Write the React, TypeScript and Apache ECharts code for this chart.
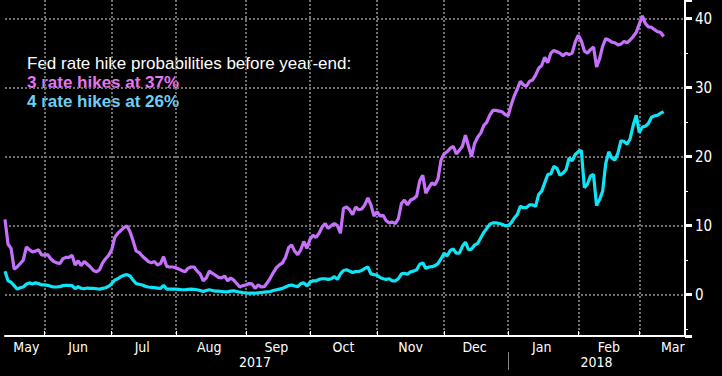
import React, { useEffect, useRef } from 'react';
import * as echarts from 'echarts';

// ---- data ----
const START_DATE = '2017-05-15';
const END_DATE = '2018-03-22';
const MONTH_NAMES = ['Jan', 'Feb', 'Mar', 'Apr', 'May', 'Jun', 'Jul', 'Aug', 'Sep', 'Oct', 'Nov', 'Dec'];

const legendTitle = 'Fed rate hike probabilities before year-end:';
const legendThree = '3 rate hikes at 37%';
const legendFour = '4 rate hikes at 26%';

const Y_MIN = -6;
const Y_MAX = 42.7;

// probability (%) of 3 hikes, one value per weekday from START_DATE
const threeHikes = [
  10.9, 7.3, 6.7, 3.7, 4.0, 4.5, 5.0, 6.9, 6.5, 6.2,
  6.3, 6.5, 5.75, 5.7, 5.8, 5.2, 4.8, 4.6, 4.5, 5.2,
  5.4, 5.4, 5.7, 4.3, 4.9, 4.2, 4.8, 4.4, 4.0, 3.5,
  3.3, 3.6, 4.6, 5.2, 5.7, 6.5, 8.3, 8.9, 9.3, 9.7,
  9.95, 9.1, 7.8, 6.3, 6.1, 5.6, 5.2, 4.8, 4.6, 4.8,
  4.3, 4.5, 5.5, 4.1, 4.0, 4.0, 3.9, 3.7, 3.5, 3.3,
  3.8, 4.0, 4.0, 3.4, 3.0, 2.0, 2.4, 3.4, 3.1, 2.8,
  2.5, 2.4, 2.7, 2.0, 2.4, 2.1, 1.6, 1.1, 1.3, 1.4,
  1.6, 1.55, 0.9, 1.4, 1.1, 1.15, 1.7, 2.4, 3.2, 3.9,
  4.3, 4.6, 5.4, 6.8, 7.2, 6.3, 5.8, 6.5, 7.7, 6.7,
  8.0, 8.6, 8.3, 8.9, 9.8, 10.3, 9.6, 10.0, 10.3, 10.0,
  8.9, 12.5, 12.7, 12.3, 11.6, 12.7, 12.3, 12.4, 13.0, 14.0,
  13.0, 11.4, 12.0, 11.4, 11.5, 10.7, 10.4, 10.5, 10.3, 11.0,
  13.2, 13.7, 13.0, 13.7, 13.9, 14.3, 16.5, 17.3, 14.7, 15.5,
  16.2, 15.9, 16.8, 19.5, 20.4, 20.7, 21.2, 21.5, 20.4, 20.9,
  21.5, 23.1, 21.5, 20.0, 21.9, 22.8, 23.4, 24.5, 25.0, 26.0,
  26.7, 26.7, 26.6, 26.5, 26.1, 25.9, 27.5, 28.8, 29.8, 30.9,
  30.4, 30.2, 30.9, 31.1, 31.8, 32.8, 33.2, 34.4, 33.6, 35.0,
  35.4, 35.2, 35.0, 34.6, 35.0, 34.8, 35.0, 36.6, 37.6, 36.8,
  35.3, 35.0, 35.5, 35.9, 33.0, 34.2, 36.0, 37.1, 36.9, 36.6,
  36.5, 36.2, 36.3, 36.7, 36.5, 36.9, 37.4, 38.0, 39.2, 40.4,
  39.3, 38.8, 38.75, 38.4, 38.1, 38.0, 37.4,
];

// probability (%) of 4 hikes
const fourHikes = [
  3.4, 2.0, 1.8, 1.3, 0.8, 1.0, 1.1, 1.5, 1.7, 1.55,
  1.7, 1.6, 1.4, 1.4, 1.35, 1.2, 1.1, 1.1, 1.15, 1.3,
  1.35, 1.35, 1.3, 0.85, 1.15, 0.9, 0.85, 0.95, 0.9, 0.9,
  0.85, 0.8, 0.9, 1.0, 1.2, 1.6, 2.1, 2.3, 2.6, 2.8,
  2.9, 2.7, 2.1, 1.6, 1.5, 1.4, 1.2, 1.1, 1.05, 1.0,
  0.95, 0.9, 1.35, 0.8, 0.8, 0.8, 0.8, 0.75, 0.7, 0.7,
  0.75, 0.8, 0.75, 0.7, 0.6, 0.45, 0.6, 0.7, 0.6, 0.5,
  0.5, 0.45, 0.4, 0.4, 0.5, 0.55, 0.45, 0.35, 0.3, 0.25,
  0.2, 0.2, 0.2, 0.25, 0.3, 0.35, 0.4, 0.45, 0.6, 0.7,
  0.8, 0.9, 1.1, 1.3, 1.4, 1.25, 1.15, 1.6, 1.7, 1.25,
  1.8, 2.0, 2.0, 2.2, 2.3, 2.3, 2.2, 2.3, 2.6, 2.2,
  3.0, 3.5, 3.6, 3.4, 3.2, 3.35, 3.35, 3.5, 3.8, 4.0,
  3.0, 2.9, 2.8, 2.5, 2.3, 2.2, 2.3, 2.0, 2.0, 2.3,
  3.0, 3.1, 2.95, 3.3, 3.4, 3.6, 4.4, 4.6, 3.8, 4.0,
  4.05, 4.2, 4.5, 5.2, 6.0, 5.6, 6.4, 6.6, 6.0, 6.0,
  7.0, 7.6, 6.5, 6.6, 7.2, 7.4, 8.2, 9.0, 9.6, 10.2,
  10.4, 10.4, 10.3, 10.2, 10.0, 10.0, 10.4, 11.1, 11.6, 12.8,
  12.6, 12.6, 13.0, 13.0, 12.8, 14.5, 15.0, 16.2, 17.4, 17.5,
  18.6, 18.3, 17.3, 17.6, 18.1, 19.8, 19.4, 20.3, 20.7, 20.9,
  15.5, 16.0, 17.2, 17.4, 12.9, 13.8, 15.0, 19.0, 20.7, 19.8,
  19.5, 20.5, 22.3, 22.2, 21.8, 22.6, 24.5, 26.0, 23.5, 24.3,
  24.4, 24.8, 25.7, 25.9, 26.0, 26.3, 26.5,
];

// ---- helpers ----
function buildWeekdays(start: string, end: string): string[] {
  const out: string[] = [];
  const d = new Date(start + 'T00:00:00Z');
  const e = new Date(end + 'T00:00:00Z');
  while (d.getTime() <= e.getTime()) {
    const wd = d.getUTCDay();
    if (wd !== 0 && wd !== 6) out.push(d.toISOString().slice(0, 10));
    d.setUTCDate(d.getUTCDate() + 1);
  }
  return out;
}

function weekdaysInMonth(y: number, m: number): number {
  let n = 0;
  const d = new Date(Date.UTC(y, m, 1));
  while (d.getUTCMonth() === m) {
    const wd = d.getUTCDay();
    if (wd !== 0 && wd !== 6) n++;
    d.setUTCDate(d.getUTCDate() + 1);
  }
  return n;
}

const dates = buildWeekdays(START_DATE, END_DATE);

const monthStarts: number[] = [];
const yearStarts: number[] = [];
dates.forEach((d, i) => {
  if (i === 0) return;
  if (d.slice(0, 7) !== dates[i - 1].slice(0, 7)) monthStarts.push(i);
  if (d.slice(0, 4) !== dates[i - 1].slice(0, 4)) yearStarts.push(i);
});
const monthStartSet = new Set(monthStarts);
const yearStartSet = new Set(yearStarts);

const monthLabelMap = new Map<number, string>();
{
  const segs = [0, ...monthStarts];
  segs.forEach((s, k) => {
    const y = +dates[s].slice(0, 4);
    const m = +dates[s].slice(5, 7) - 1;
    let idx: number;
    if (k === 0 && dates[s].slice(8, 10) !== '01') {
      idx = Math.round((s + (segs[1] ?? dates.length)) / 2);
    } else {
      idx = s + Math.floor(weekdaysInMonth(y, m) / 2);
    }
    if (idx < dates.length) monthLabelMap.set(idx, MONTH_NAMES[m]);
  });
}

const yearLabelMap = new Map<number, string>();
{
  const segs = [0, ...yearStarts, dates.length];
  for (let k = 0; k < segs.length - 1; k++) {
    const idx = Math.floor((segs[k] + segs[k + 1]) / 2);
    yearLabelMap.set(idx, dates[segs[k]].slice(0, 4));
  }
}

const AXIS_FONT = "'Liberation Sans Narrow', 'Arial Narrow', 'DejaVu Sans Condensed', 'Liberation Sans', sans-serif";
const TEXT_FONT = "'Liberation Sans', Arial, sans-serif";

export default function App() {
  const ref = useRef<HTMLDivElement>(null);

  useEffect(() => {
    if (!ref.current) return;
    const chart = echarts.init(ref.current, undefined, { renderer: 'svg' });
    chart.setOption({
      animation: false,
      backgroundColor: '#000',
      grid: { left: 5, right: 37, top: 0, bottom: 40, containLabel: false },
      xAxis: [
        {
          type: 'category',
          data: dates,
          boundaryGap: false,
          axisLine: { show: true, onZero: false, lineStyle: { color: '#fff', width: 2 } },
          axisTick: {
            show: true,
            inside: true,
            length: 5,
            interval: (i: number) => monthStartSet.has(i),
            lineStyle: { color: '#fff', width: 1 },
          },
          axisLabel: {
            show: true,
            interval: (i: number) => monthLabelMap.has(i),
            formatter: (_v: string, i: number) => monthLabelMap.get(i) ?? '',
            color: '#fff',
            fontSize: 14,
            fontFamily: AXIS_FONT,
            margin: 4,
          },
          splitLine: {
            show: true,
            interval: (i: number) => monthStartSet.has(i),
            lineStyle: { color: '#707070', type: 'dotted', width: 2 },
          },
        },
        {
          type: 'category',
          data: dates,
          boundaryGap: false,
          position: 'bottom',
          offset: 16,
          axisLine: { show: false, onZero: false },
          axisTick: {
            show: true,
            length: 18,
            interval: (i: number) => yearStartSet.has(i),
            lineStyle: { color: '#888', width: 1 },
          },
          axisLabel: {
            show: true,
            interval: (i: number) => yearLabelMap.has(i),
            formatter: (_v: string, i: number) => yearLabelMap.get(i) ?? '',
            color: '#fff',
            fontSize: 14,
            fontFamily: AXIS_FONT,
            margin: 3,
          },
          splitLine: { show: false },
        },
      ],
      yAxis: {
        type: 'value',
        position: 'right',
        min: Y_MIN,
        max: Y_MAX,
        minInterval: 10,
        maxInterval: 10,
        axisLine: { show: true, onZero: false, lineStyle: { color: '#fff', width: 2 } },
        axisTick: { show: true, length: 7, lineStyle: { color: '#fff', width: 3 } },
        minorTick: { show: true, splitNumber: 2, length: 3, lineStyle: { color: '#fff', width: 1 } },
        axisLabel: {
          color: '#fff',
          fontSize: 15,
          fontFamily: AXIS_FONT,
          margin: 10,
          showMinLabel: false,
          showMaxLabel: false,
          formatter: (v: number) => (Math.abs(v % 10) < 1e-9 ? String(v) : ''),
        },
        splitLine: {
          show: true,
          showMinLine: false,
          showMaxLine: false,
          lineStyle: { color: '#707070', type: 'dotted', width: 2 },
        },
      },
      series: [
        {
          name: '3 rate hikes',
          type: 'line',
          data: threeHikes,
          showSymbol: false,
          symbol: 'none',
          lineStyle: { color: '#c671fb', width: 3.2 },
          itemStyle: { color: '#c671fb' },
        },
        {
          name: '4 rate hikes',
          type: 'line',
          data: fourHikes,
          showSymbol: false,
          symbol: 'none',
          lineStyle: { color: '#0fe4f7', width: 3.2 },
          itemStyle: { color: '#0fe4f7' },
        },
      ],
      graphic: [
        {
          type: 'text',
          left: 27,
          top: 55,
          style: {
            text: `{t|${legendTitle}}\n{a|${legendThree}}\n{b|${legendFour}}`,
            rich: {
              t: { fill: '#ffffff', fontSize: 17, fontFamily: TEXT_FONT, lineHeight: 19.2 },
              a: { fill: '#e676f3', fontSize: 17, fontWeight: 'bold', fontFamily: TEXT_FONT, lineHeight: 19.2 },
              b: { fill: '#6ccff8', fontSize: 17, fontWeight: 'bold', fontFamily: TEXT_FONT, lineHeight: 19.2 },
            },
          },
        },
      ],
    });
    return () => chart.dispose();
  }, []);

  return (
    <div
      ref={ref}
      style={{ position: 'fixed', left: 0, top: 0, width: 722, height: 376, background: '#000' }}
    />
  );
}
